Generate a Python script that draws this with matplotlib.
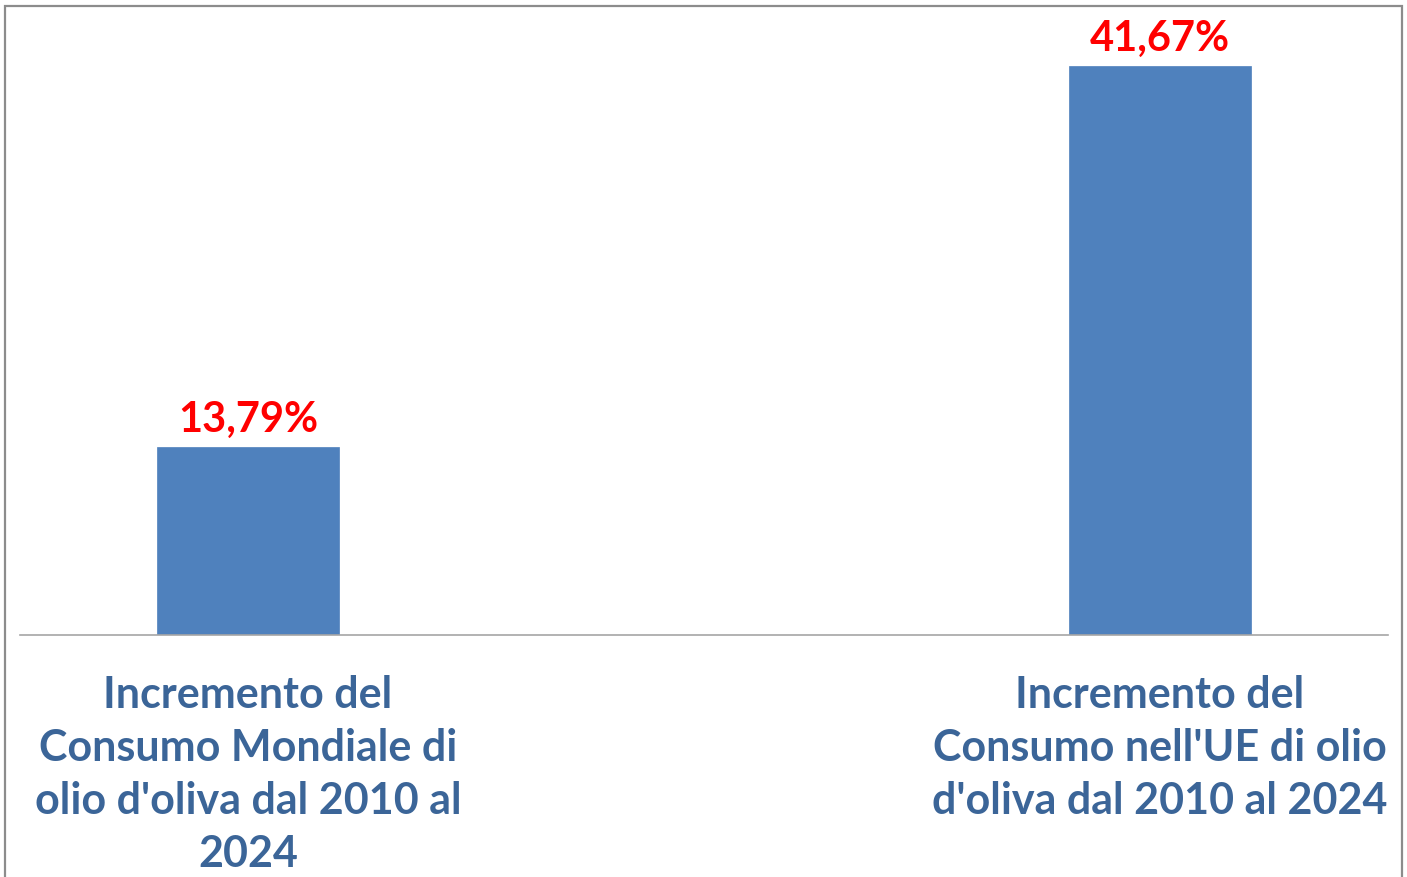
import matplotlib
matplotlib.use("Agg")
import matplotlib.pyplot as plt
from matplotlib.patches import Rectangle

categories = [
    "Incremento del\nConsumo Mondiale di\nolio d'oliva dal 2010 al\n2024",
    "Incremento del\nConsumo nell'UE di olio\nd'oliva dal 2010 al 2024",
]
values = [13.79, 41.67]
value_labels = ["13,79%", "41,67%"]

W, H = 1407, 878
fig = plt.figure(figsize=(W / 100, H / 100), dpi=100)
fig.patch.set_facecolor("white")

# outer border
fig.patches.append(Rectangle((5 / W, -0.05), (1402 - 5) / W, (H - 7) / H + 0.05,
                             transform=fig.transFigure, fill=False,
                             edgecolor="#8C8C8C", linewidth=1.6))

ax = fig.add_axes([20 / W, (H - 636) / H, (1388 - 20) / W, (636 - 21) / H])
x = list(range(len(values)))
ax.bar(x, values, width=0.2, color="#4F81BD", edgecolor="#4F81BD", linewidth=0.5, zorder=2)
ax.set_xlim(-0.25, 1.25)
ax.set_ylim(0, 45)

for xi, v, lab in zip(x, values, value_labels):
    ax.annotate(lab, (xi, v), xytext=(0, 6), textcoords="offset points",
                ha="center", va="bottom", color="#FF0000",
                fontsize=30, fontweight="bold", family="Lato")

for s in ["top", "right", "left"]:
    ax.spines[s].set_visible(False)
ax.spines["bottom"].set_color("#A6A6A6")
ax.spines["bottom"].set_linewidth(1.2)
ax.set_yticks([])
ax.set_xticks(x)
ax.set_xticklabels(categories, fontsize=31, fontweight="bold", family="Lato",
                   color="#3B6598", linespacing=1.40)
ax.tick_params(axis="x", length=0, pad=28)

fig.savefig("out.png", dpi=100)
